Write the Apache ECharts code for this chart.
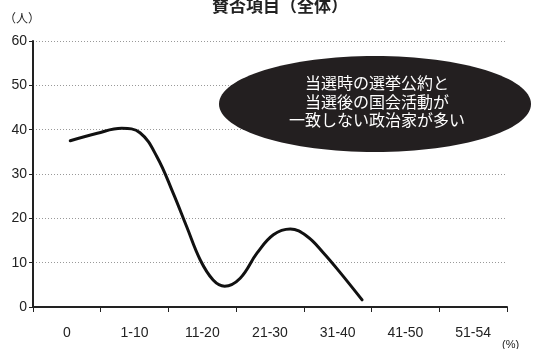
<!DOCTYPE html>
<html>
<head>
<meta charset="utf-8">
<script src="https://cdn.jsdelivr.net/npm/echarts@6/dist/echarts.min.js"></script>
<style>
  html, body { margin: 0; padding: 0; background: #fff; }
  #chart { width: 560px; height: 349px; }
</style>
</head>
<body>
<div id="chart"></div>
<script>
// 得票率区分
var categories = ['0', '1-10', '11-20', '21-30', '31-40', '41-50', '51-54'];
// curve: position in category units, value in 人
var curveX = [0.05, 0.45, 0.81, 1.08, 1.33, 1.57, 1.77, 1.97, 2.16, 2.33, 2.56, 2.81, 3.05, 3.3, 3.55, 3.79, 4.04, 4.36];
var curveY = [37.5, 39.2, 40.3, 39.3, 33.9, 25.7, 18.1, 10.6, 6.1, 4.7, 6.5, 12.2, 16.3, 17.6, 15.9, 12.2, 7.7, 1.6];
var yTicks = [0, 60, 10]; // min, max, interval

var chart = echarts.init(document.getElementById('chart'));
var font = '"Liberation Sans", Arial, sans-serif';
var cjk = '"Noto Sans CJK JP", sans-serif';

var points = curveX.map(function (x, i) { return [x, curveY[i]]; });

var option = {
  animation: false,
  title: {
    text: '賛否項目（全体）',
    left: 'center',
    top: -8,
    textStyle: { fontFamily: cjk, fontSize: 17, fontWeight: 'bold', color: '#222' }
  },
  grid: { left: 33, right: 53, top: 41, bottom: 42, outerBoundsMode: 'none', containLabel: false },
  xAxis: [
    {
      type: 'category',
      data: categories,
      boundaryGap: true,
      axisLine: { lineStyle: { color: '#222', width: 2 } },
      axisTick: { show: true, length: 5, lineStyle: { color: '#222' } },
      axisLabel: { fontFamily: font, fontSize: 14, color: '#222', margin: 19 },
      name: '(%)',
      nameLocation: 'end',
      nameGap: -5,
      nameTextStyle: { fontFamily: font, fontSize: 11, color: '#222', verticalAlign: 'top', padding: [32, 0, 0, 0] }
    },
    {
      type: 'value',
      show: false,
      min: -0.5,
      max: 6.5
    }
  ],
  yAxis: {
    type: 'value',
    min: yTicks[0],
    max: yTicks[1],
    interval: yTicks[2],
    name: '（人）',
    nameLocation: 'end',
    nameGap: 17,
    nameTextStyle: { fontFamily: cjk, fontSize: 12, color: '#222', align: 'center', padding: [0, 22, 0, 0] },
    axisLine: { show: true, onZero: false, lineStyle: { color: '#222', width: 2 } },
    axisTick: { show: true, length: 4, lineStyle: { color: '#222' } },
    axisLabel: { fontFamily: font, fontSize: 14, color: '#222', margin: 6 },
    splitLine: { lineStyle: { color: '#999', type: [1, 2], width: 1 } }
  },
  series: [{
    type: 'line',
    xAxisIndex: 1,
    data: points,
    smooth: 0.4,
    symbol: 'none',
    lineStyle: { color: '#111', width: 3, cap: 'round' }
  }],
  graphic: [
    {
      type: 'ellipse',
      shape: { cx: 375, cy: 104, rx: 156, ry: 48 },
      style: { fill: '#231f20' },
      z: 10
    },
    {
      type: 'text',
      x: 377,
      y: 74,
      z: 11,
      style: {
        text: '当選時の選挙公約と\n当選後の国会活動が\n一致しない政治家が多い',
        fill: '#fff',
        font: '16px "Noto Sans CJK JP", sans-serif',
        lineHeight: 18.5,
        align: 'center',
        verticalAlign: 'top'
      }
    }
  ]
};
chart.setOption(option);
</script>
</body>
</html>
